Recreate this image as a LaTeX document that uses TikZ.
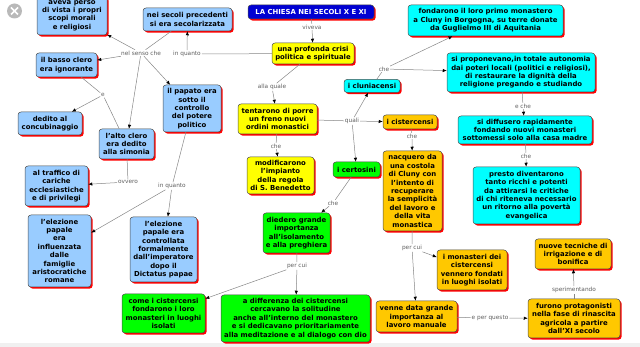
\documentclass[tikz,border=0pt]{standalone}
\usepackage{fontspec}
\setmainfont{DejaVu Sans}
\usetikzlibrary{arrows.meta,shadows}
\definecolor{azz}{RGB}{153,204,255}
\definecolor{gia}{RGB}{255,255,0}
\definecolor{cia}{RGB}{0,255,255}
\definecolor{ara}{RGB}{255,200,0}
\definecolor{ver}{RGB}{0,255,0}
\definecolor{titolo}{RGB}{0,0,210}

\begin{document}
\begin{tikzpicture}[x=1pt, y=-1pt,
    concetto/.style={fill=#1, draw=gray!60!black, line width=0.5pt, rounded corners=3pt,
        align=center, inner sep=1pt, font=\bfseries\fontsize{6.9}{8.4}\selectfont,
        drop shadow={shadow xshift=1.6pt, shadow yshift=-1.6pt, fill=red, opacity=1}},
    sz/.style args={#1/#2}{minimum width=#1pt, minimum height=#2pt},
    frase/.style={fill=white, inner sep=0.8pt, text=gray!75!black, font=\fontsize{5.8}{7}\selectfont},
    tratto/.style={draw=gray!95, line width=0.5pt},
    freccia/.style={tratto, -{Latex[black, length=4pt, width=3.4pt]}}]
    \useasboundingbox (0,0) rectangle (640,347);
    \fill[gray!12] (0,343) rectangle (640,347);
    \fill[gray!55] (14.5,11) circle (7.5);
    \draw[white, line width=1.6pt] (11,7.5) -- (18,14.5) (11,14.5) -- (18,7.5);

    \node[concetto=azz, sz=70/39] (perso) at (72,15.5) {aveva perso\\di vista i propri\\scopi morali\\e religiosi};
    \node[concetto=azz, sz=89/23] (secoli) at (187.5,19.5) {nei secoli precedenti\\si era secolarizzata};
    \node[concetto=azz, sz=61/24] (basso) at (66.5,65) {il basso clero\\era ignorante};
    \node[concetto=azz, sz=64/23] (concub) at (50,123.5) {dedito al\\concubinaggio};
    \node[concetto=azz, sz=55/30] (alto) at (126.5,144) {l'alto clero\\era dedito\\alla simonia};
    \node[concetto=azz, sz=58/47] (papato) at (192,108.5) {il papato era\\sotto il\\controllo\\del potere\\politico};
    \node[concetto=azz, sz=63/40] (traffico) at (56.5,186) {al traffico di\\cariche\\ecclesiastiche\\e di privilegi};
    \node[concetto=azz, sz=63/72] (influenza) at (59.5,251) {l'elezione\\papale\\era\\influenzata\\dalle\\famiglie\\aristocratiche\\romane};
    \node[concetto=azz, sz=67/65] (controllo) at (163.5,249.5) {l'elezione\\papale era\\controllata\\formalmente\\dall'imperatore\\dopo il\\Dictatus papae};

    \node[concetto=titolo, text=white, sz=126/14] (titolo) at (311,12) {LA CHIESA NEI SECOLI X E XI};
    \node[concetto=gia, sz=82/21] (crisi) at (313,53.5) {una profonda crisi\\politica e spirituale};
    \node[concetto=gia, sz=79/30] (freno) at (277.5,119) {tentarono di porre\\un freno nuovi\\ordini monastici};
    \node[concetto=gia, sz=67/37] (regola) at (280.5,175.5) {modificarono\\l'impianto\\della regola\\di S. Benedetto};

    \node[concetto=cia, sz=56/13] (cluny) at (372,86) {i cluniacensi};
    \node[concetto=cia, sz=155/31] (fondarono) at (485.5,20.5) {fondarono il loro primo monastero\\a Cluny in Borgogna, su terre donate\\da Guglielmo III di Aquitania};
    \node[concetto=cia, sz=148/39] (autonomia) at (521,72.5) {si proponevano,in totale autonomia\\dai poteri locali (politici e religiosi),\\di restaurare la dignità della\\religione pregando e studiando};
    \node[concetto=cia, sz=134/28] (diffusero) at (525,130) {si diffusero rapidamente\\fondando nuovi monasteri\\sottomessi solo alla casa madre};
    \node[concetto=cia, sz=107/57] (ricchi) at (526.5,195.5) {presto diventarono\\tanto ricchi e potenti\\da attirarsi le critiche\\di chi riteneva necessario\\un ritorno alla povertà\\evangelica};

    \node[concetto=ara, sz=54/14] (cister) at (410,122) {i cistercensi};
    \node[concetto=ara, sz=59/80] (costola) at (412.5,191) {nacquero da\\una costola\\di Cluny con\\l'intento di\\recuperare\\la semplicità\\del lavoro e\\della vita\\monastica};
    \node[concetto=ara, sz=70/40] (isolati) at (472,270) {i monasteri dei\\cistercensi\\vennero fondati\\in luoghi isolati};
    \node[concetto=ara, sz=81/31] (manuale) at (416.5,316.5) {venne data grande\\importanza al\\lavoro manuale};
    \node[concetto=ara, sz=92/39] (rinascita) at (574,318.5) {furono protagonisti\\nella fase di rinascita\\agricola a partire\\dall'XI secolo};
    \node[concetto=ara, sz=76/30] (tecniche) at (573,254) {nuove tecniche di\\irrigazione e di\\bonifica};

    \node[concetto=ver, sz=47/15] (certosini) at (356.5,169.5) {i certosini};
    \node[concetto=ver, sz=67/40] (preghiera) at (296.5,233) {diedero grande\\importanza\\all'isolamento\\e alla preghiera};
    \node[concetto=ver, sz=83/39] (come) at (163.5,313.5) {come i cistercensi\\fondarono i loro\\monasteri in luoghi\\isolati};
    \node[concetto=ver, sz=149/47] (differenza) at (295.5,318.5) {a differenza dei cistercensi\\cercavano la solitudine\\anche all'interno del monastero\\e si dedicavano prioritariamente\\alla meditazione e al dialogo con dio};

    \node[frase] (nelsenso) at (141,53) {nel senso che};
    \node[frase] (cong) at (103,95) {e};
    \node[frase] (inquanto1) at (187,54) {in quanto};
    \node[frase] (viveva) at (312,27) {viveva};
    \node[frase] (allaquale) at (272,87) {alla quale};
    \node[frase] (che1) at (276,146) {che};
    \node[frase] (quali) at (352,121) {quali};
    \node[frase] (che2) at (384,69) {che};
    \node[frase] (eche) at (523,106) {e che};
    \node[frase] (che3) at (526,156) {che};
    \node[frase] (che4) at (412,136) {che};
    \node[frase] (percui1) at (412,248) {per cui};
    \node[frase] (perquesto) at (490,318) {e per questo};
    \node[frase] (sperim) at (574,290) {sperimentando};
    \node[frase] (che5) at (333,203) {che};
    \node[frase] (percui2) at (297,266) {per cui};
    \node[frase] (ovvero) at (128,182) {ovvero};
    \node[frase] (inquanto2) at (172,186) {in quanto};

    \foreach \a/\b in {secoli/nelsenso, basso/cong, alto/cong, alto/ovvero, papato/inquanto2,
        crisi/inquanto1, titolo/viveva, crisi/allaquale, freno/che1, freno/quali, cluny/che2,
        autonomia/eche, diffusero/che3, cister/che4, costola/percui1, manuale/perquesto,
        rinascita/sperim, certosini/che5, preghiera/percui2}
        \draw[tratto] (\a) -- (\b);
    \foreach \a/\b in {nelsenso/perso, nelsenso/basso, nelsenso/papato, nelsenso/alto, cong/concub,
        ovvero/traffico, inquanto2/influenza, inquanto2/controllo, inquanto1/secoli, viveva/crisi,
        allaquale/freno, che1/regola, quali/cluny, quali/cister, quali/certosini, che2/fondarono,
        che2/autonomia, eche/diffusero, che3/ricchi, che4/costola, percui1/manuale, percui1/isolati,
        perquesto/rinascita, sperim/tecniche, che5/preghiera, percui2/differenza, percui2/come}
        \draw[freccia] (\a) -- (\b);
\end{tikzpicture}
\end{document}
